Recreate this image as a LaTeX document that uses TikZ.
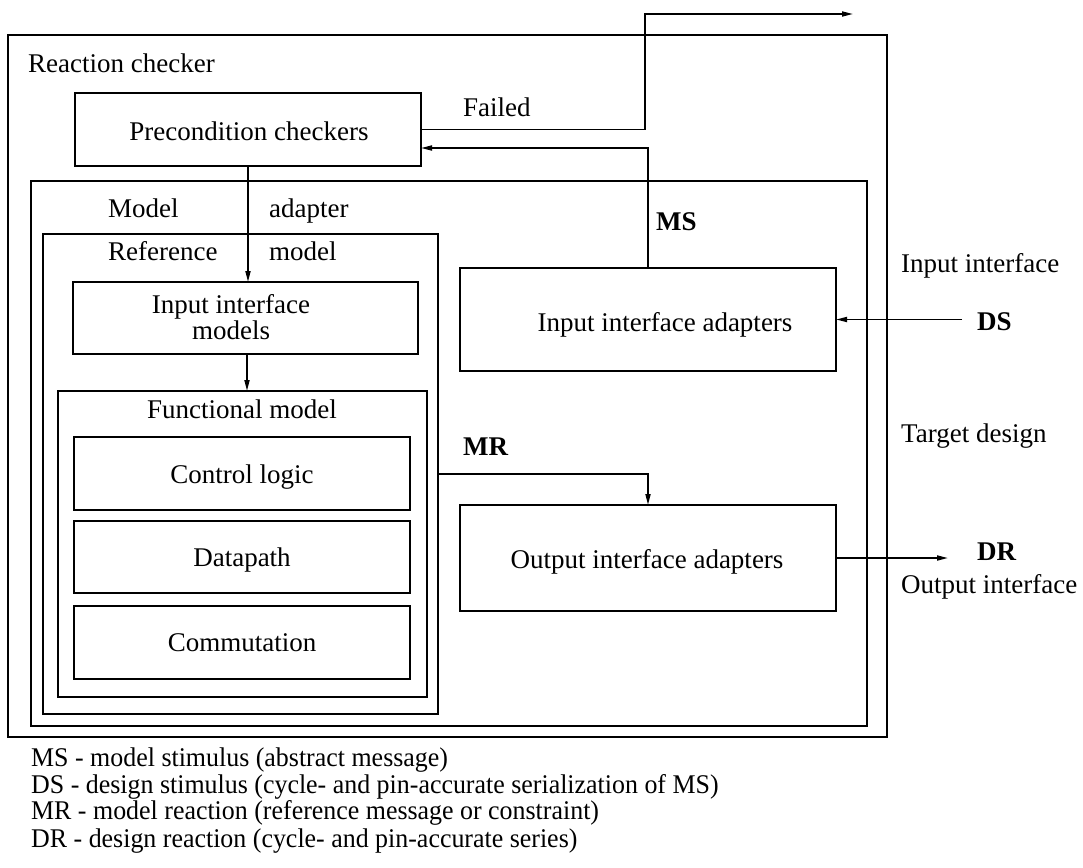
\documentclass[tikz,border=0pt]{standalone}
\usepackage{fontspec}
\setmainfont{Liberation Serif}
\newfontfamily\legendfont{Liberation Serif}[FakeStretch=0.96]
\usetikzlibrary{arrows.meta}
\begin{document}
\begin{tikzpicture}[x=1pt,y=-1pt,
  font=\fontsize{27}{32}\selectfont,
  frame/.style={draw,line width=1.7pt,inner sep=0pt,outer sep=0pt},
  txt/.style={inner sep=0pt,anchor=base},
  txtl/.style={inner sep=0pt,anchor=base west},
  legline/.style={inner sep=0pt,anchor=base west,font=\legendfont\fontsize{27}{32}\selectfont},
  tag/.style={inner sep=0pt,anchor=base west,font=\fontsize{27}{32}\selectfont\bfseries},
  arr/.style={line width=1.7pt,-{Triangle[length=11pt,width=5pt]}}]
\useasboundingbox (0,0) rectangle (1083,867);

% nested frames
\node[frame,minimum width=879pt,minimum height=702pt] (checker) at (447.5,386) {};
\node[frame,minimum width=346pt,minimum height=73pt]  (prec)    at (248,129.5) {};
\node[frame,minimum width=836pt,minimum height=545pt] (adapter) at (449,453.5) {};
\node[frame,minimum width=395pt,minimum height=480pt] (refmodel) at (240.5,474) {};
\node[frame,minimum width=345pt,minimum height=72pt]  (iim)     at (245.5,318) {};
\node[frame,minimum width=369pt,minimum height=306pt] (func)    at (242.5,544) {};
\node[frame,minimum width=336pt,minimum height=73pt]  (ctrl)    at (242,473.5) {};
\node[frame,minimum width=336pt,minimum height=72pt]  (data)    at (242,557) {};
\node[frame,minimum width=336pt,minimum height=73pt]  (comm)    at (242,642.5) {};
\node[frame,minimum width=376pt,minimum height=103pt] (iia)     at (648,319.5) {};
\node[frame,minimum width=376pt,minimum height=106pt] (oia)     at (648,558) {};

% box and frame captions
\node[txtl] (tchecker) at (28,72) {Reaction checker};
\node[txt] (tprec) at (249,140) {Precondition checkers};
\node[txtl] (tmodel) at (108,217) {Model};
\node[txtl] (tadapter) at (269,217) {adapter};
\node[txtl] (treference) at (108,260) {Reference};
\node[txtl] (tmodel2) at (269,260) {model};
\node[txt] (tiim1) at (231,313) {Input interface};
\node[txt] (tiim2) at (231,339) {models};
\node[txt] (tfunc) at (242,418) {Functional model};
\node[txt] (tctrl) at (242,483) {Control logic};
\node[txt] (tdata) at (242,566) {Datapath};
\node[txt] (tcomm) at (242,651) {Commutation};
\node[txt] (tiia) at (665,331) {Input interface adapters};
\node[txt] (toia) at (647,568) {Output interface adapters};
\node[txtl] (tfailed) at (463,116) {Failed};
\node[txtl] (tinif) at (901,272) {Input interface};
\node[txtl] (ttarget) at (901,442) {Target design};
\node[txtl] (toutif) at (901,593) {Output interface};

% signal tags
\node[tag] (ms) at (656,230) {MS};
\node[tag] (mr) at (463,455) {MR};
\node[tag] (ds) at (977,330) {DS};
\node[tag] (dr) at (977,560) {DR};

% free ends of external signals
\coordinate (failturn) at (645,14);
\coordinate (failout) at (853,14);
\coordinate (dsin) at (962,319.5);
\coordinate (drout) at (948,558);

% connectors
\draw[arr] (prec.east) -| (failturn) -- (failout);
\draw[arr] (iia.north) |- ([yshift=-18.5pt]prec.east);
\draw[arr] (prec.south) -- (prec.south |- iim.north);
\draw[arr] ([xshift=1.5pt]iim.south) -- ([xshift=1.5pt]iim.south |- func.north);
\draw[arr] (refmodel.east) -| (oia.north);
\draw[arr] (dsin) -- (iia.east);
\draw[arr] (oia.east) -- (drout);

% legend
\node[legline] (leg1) at (31,766) {MS - model stimulus (abstract message)};
\node[legline] (leg2) at (31,793) {DS - design stimulus (cycle- and pin-accurate serialization of MS)};
\node[legline] (leg3) at (31,819) {MR - model reaction (reference message or constraint)};
\node[legline] (leg4) at (31,847) {DR - design reaction (cycle- and pin-accurate series)};
\end{tikzpicture}
\end{document}
